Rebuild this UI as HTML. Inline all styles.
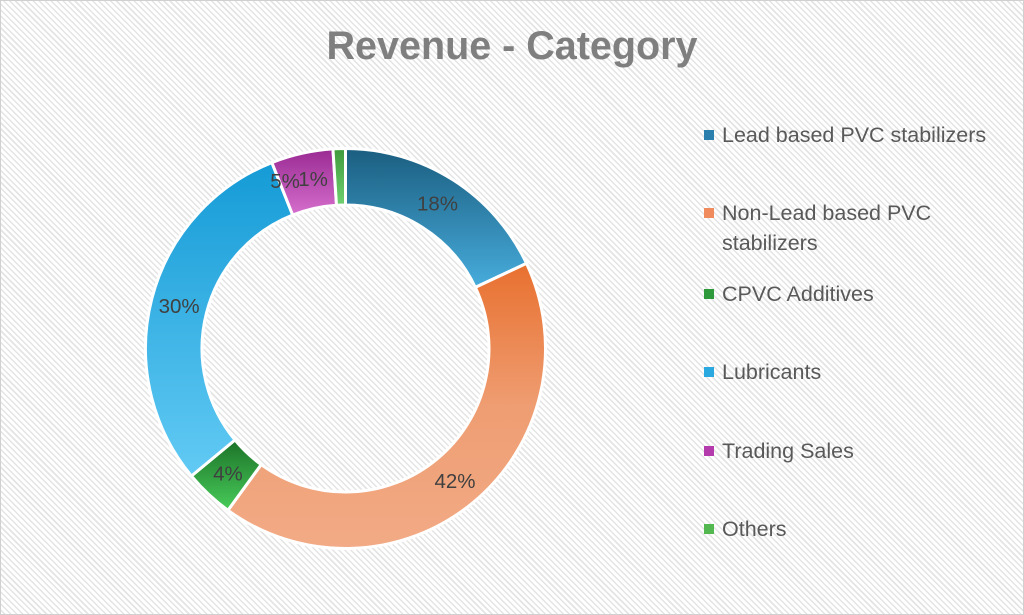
<!DOCTYPE html>
<html><head><meta charset="utf-8"><style>
html,body{margin:0;padding:0}
body{width:1024px;height:615px;overflow:hidden;font-family:"Liberation Sans",sans-serif}
#wrap{position:relative;width:1022px;height:613px;border:1px solid #d0d0d0;
background:repeating-linear-gradient(45deg,#ffffff 0 2px,#e4e4e4 2px 3.5px,#ffffff 3.5px 4.2px)}
#title{position:absolute;left:0;width:100%;top:23px;text-align:center;font-size:39.5px;font-weight:bold;color:#7f7f7f}
</style></head><body>
<div id="wrap">
<div id="title">Revenue - Category</div>
<svg id="svg" width="1022" height="613" style="position:absolute;left:0;top:0">
<defs>
<linearGradient id="g0" x1="0" y1="0" x2="0" y2="1"><stop offset="0" stop-color="#1b5e80"/><stop offset="1" stop-color="#47acdc"/></linearGradient>
<linearGradient id="g1" x1="0" y1="0" x2="0" y2="1"><stop offset="0" stop-color="#e8702f"/><stop offset="0.5" stop-color="#ef9d72"/><stop offset="1" stop-color="#f2ab86"/></linearGradient>
<linearGradient id="g2" x1="0" y1="0" x2="0" y2="1"><stop offset="0" stop-color="#1c7228"/><stop offset="1" stop-color="#48cc5a"/></linearGradient>
<linearGradient id="g3" x1="0" y1="0" x2="0" y2="1"><stop offset="0" stop-color="#159bd6"/><stop offset="1" stop-color="#62caf4"/></linearGradient>
<linearGradient id="g4" x1="0" y1="0" x2="0" y2="1"><stop offset="0" stop-color="#992a93"/><stop offset="1" stop-color="#d66fcd"/></linearGradient>
<linearGradient id="g5" x1="0" y1="0" x2="0" y2="1"><stop offset="0" stop-color="#3f9a3a"/><stop offset="1" stop-color="#6fd070"/></linearGradient>
</defs>
<g id="slices"></g><g id="labels"></g>
</svg>
<div id="legend"></div>
</div>
<script>
const categories=["Lead based PVC stabilizers","Non-Lead based PVC stabilizers","CPVC Additives","Lubricants","Trading Sales","Others"];
const values=[18,42,4,30,5,1];
const valueLabels=["18%","42%","4%","30%","5%","1%"];
const colors=["#2a7fac","#ef8b5c","#2e9a3c","#2aa8e0","#b33bab","#52b84f"];
const cx=344.5,cy=347.5,R=200,r=143.5;
const ns="http://www.w3.org/2000/svg";
const total=values.reduce((a,b)=>a+b,0);
function pt(rad,f){const a=f*2*Math.PI;return [cx+rad*Math.sin(a),cy-rad*Math.cos(a)];}
let acc=0;
const sg=document.getElementById('slices'),lg=document.getElementById('labels');
values.forEach((v,i)=>{
 const f0=acc/total,f1=(acc+v)/total;acc+=v;
 const large=(f1-f0)>0.5?1:0;
 const [x0,y0]=pt(R,f0),[x1,y1]=pt(R,f1),[x2,y2]=pt(r,f1),[x3,y3]=pt(r,f0);
 const p=document.createElementNS(ns,'path');
 p.setAttribute('d',`M${x0},${y0}A${R},${R} 0 ${large} 1 ${x1},${y1}L${x2},${y2}A${r},${r} 0 ${large} 0 ${x3},${y3}Z`);
 p.setAttribute('fill',`url(#g${i})`);p.setAttribute('stroke','#fff');p.setAttribute('stroke-width','3');
 
 
 sg.appendChild(p);
 let [lx,ly]=pt((R+r)/2,(f0+f1)/2);
 if(v<=2){lx-=27;ly+=2;}
 if(i===4){lx-=23;}
 const t=document.createElementNS(ns,'text');
 t.setAttribute('x',lx);t.setAttribute('y',ly+7);t.setAttribute('text-anchor','middle');
 t.setAttribute('font-size','20.5');t.setAttribute('fill','#404040');t.setAttribute('font-family','Liberation Sans, sans-serif');
 t.textContent=valueLabels[i];
 
 
 lg.appendChild(t);
});
const legTops=[119,197,278,356,435,513];
const L=document.getElementById('legend');
categories.forEach((c,i)=>{
 const d=document.createElement('div');
 d.style.cssText=`position:absolute;left:703px;top:${legTops[i]}px;width:300px;font-size:21.5px;line-height:30px;color:#595959`;
 d.innerHTML=`<span style="position:absolute;left:0;top:10px;width:10px;height:10px;background:${colors[i]}"></span><span style="display:block;margin-left:18px">${c}</span>`;
 
 
 L.appendChild(d);
});
</script>
</body></html>
